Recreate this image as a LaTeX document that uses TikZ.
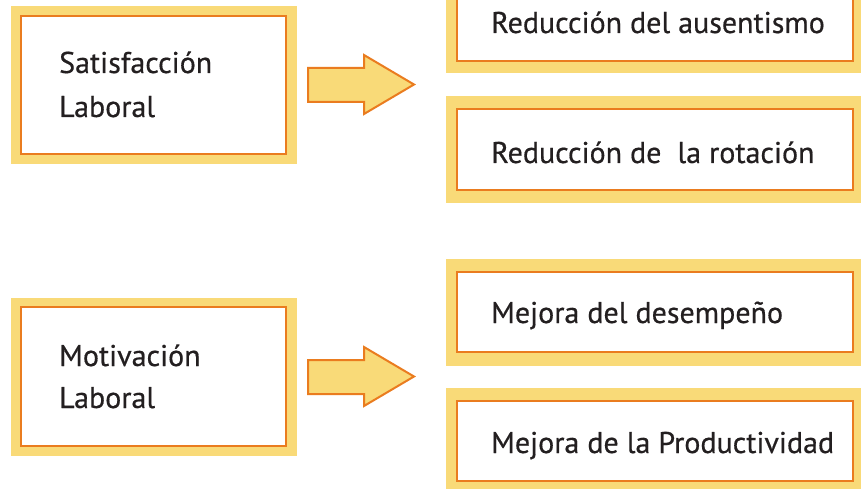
\documentclass[tikz,border=0pt]{standalone}
\usepackage{fontspec}
\setmainfont{PT Sans}[FakeBold=0.5]
\definecolor{yel}{HTML}{F9DA78}
\definecolor{org}{HTML}{EA7C1F}
\definecolor{txt}{HTML}{231F20}
\begin{document}
\begin{tikzpicture}[x=1pt,y=-1pt,
  lbl/.style={anchor=base west,inner sep=0pt,text=txt,font=\fontsize{30}{30}\selectfont},
  outer/.style={fill=yel},
  inner/.style={draw=org,line width=2.2pt,fill=white},
  blockarrow/.style={fill=yel,draw=org,line width=2pt,line join=miter}]
\useasboundingbox[fill=white] (0,0) rectangle (861,489);
% left boxes
\fill[outer] (11,6) rectangle (297,164);
\draw[inner] (21,16) rectangle (286,154);
\fill[outer] (11,298) rectangle (297,456);
\draw[inner] (21,307) rectangle (286,446);
% right boxes
\fill[outer] (446,-40) rectangle (861,73);
\draw[inner] (457,-20) rectangle (853,61);
\fill[outer] (446,96) rectangle (861,203);
\draw[inner] (457,109) rectangle (853,190);
\fill[outer] (446,259) rectangle (861,366);
\draw[inner] (457,272) rectangle (853,352);
\fill[outer] (446,388) rectangle (861,489);
\draw[inner] (457,401) rectangle (853,481);
% arrows
\draw[blockarrow] (308,68) -- (364,68) -- (364,55) -- (414,84.5) -- (364,114) -- (364,102) -- (308,102) -- cycle;
\draw[blockarrow] (308,360) -- (364,360) -- (364,347) -- (414,376.5) -- (364,406) -- (364,394) -- (308,394) -- cycle;
% texts
\node[lbl] (s1) at (59,73) {Satisfacción};
\node[lbl] (s2) at (59,117) {Laboral};
\node[lbl] (m1) at (59,366) {Motivación};
\node[lbl] (m2) at (59,408) {Laboral};
\node[lbl] (r1) at (491,33) {Reducción del ausentismo};
\node[lbl] (r2) at (491,163) {Reducción de\ \ la rotación};
\node[lbl] (r3) at (491,323) {Mejora del desempeño};
\node[lbl] (r4) at (491,453) {Mejora de la Productividad};
\end{tikzpicture}
\end{document}
